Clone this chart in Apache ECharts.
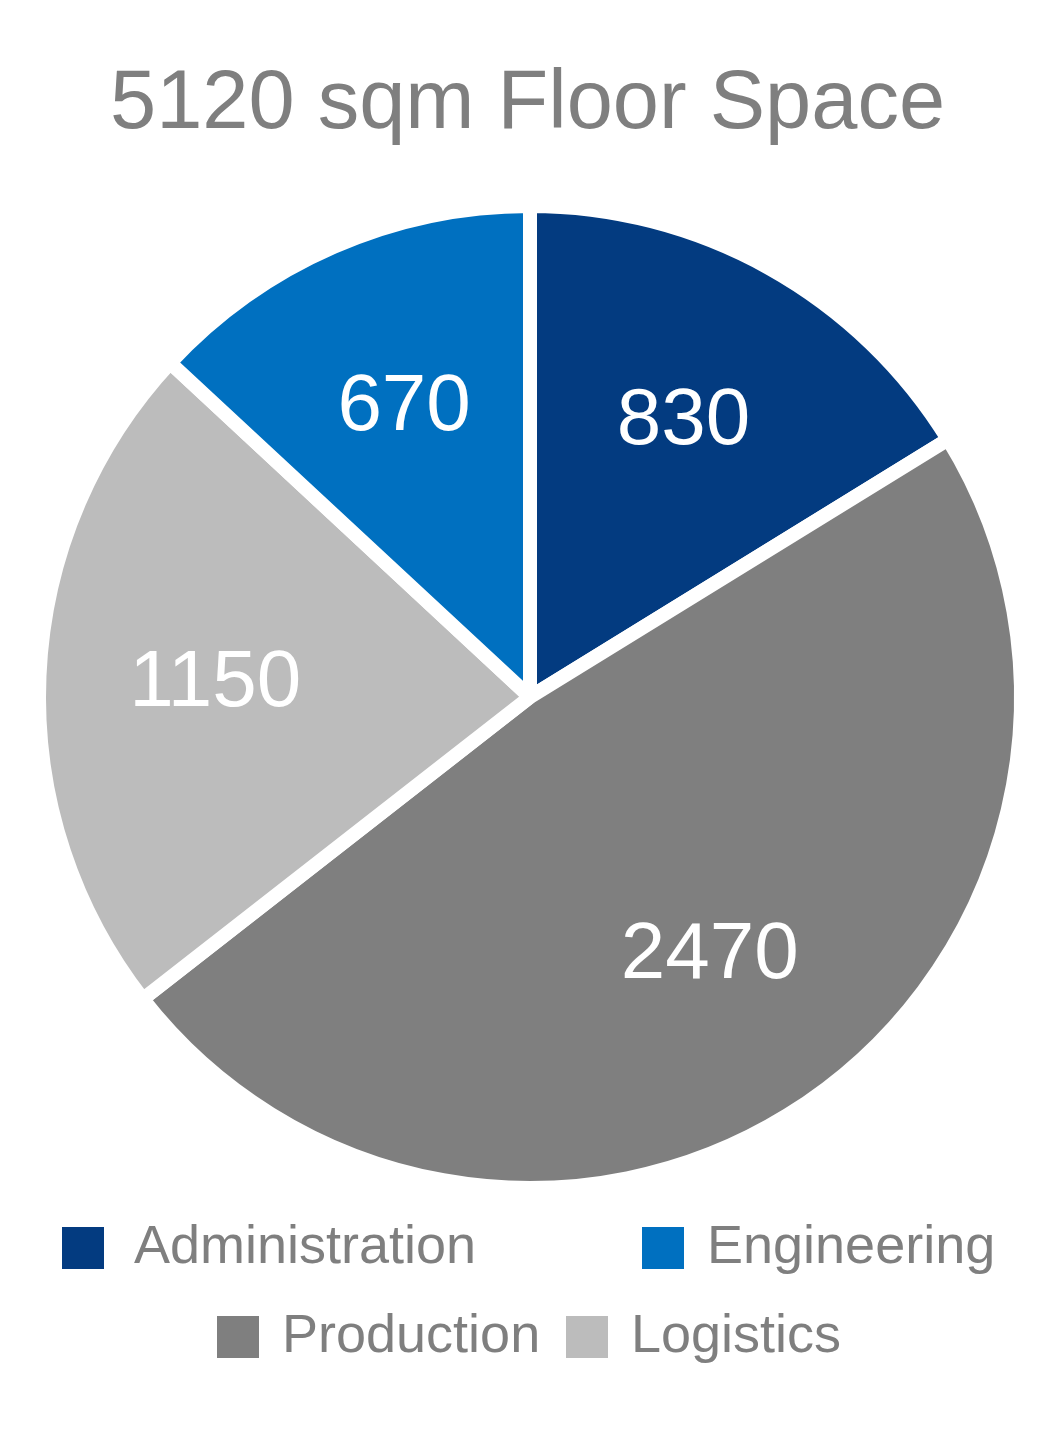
<!DOCTYPE html>
<html>
<head>
<meta charset="utf-8">
<script src="https://cdn.jsdelivr.net/npm/echarts@6/dist/echarts.min.js"></script>
<style>
html,body{margin:0;padding:0;background:#fff;}
#chart{width:1047px;height:1429px;}
</style>
</head>
<body>
<div id="chart"></div>
<script>
const titleText = "5120 sqm Floor Space";
const categories = ["Administration", "Production", "Logistics", "Engineering"];
const values = [830, 2470, 1150, 670];
const colors = ["#033B80", "#7F7F7F", "#BCBCBC", "#0070C0"];
const legendOrder = ["Administration", "Engineering", "Production", "Logistics"];

const chart = echarts.init(document.getElementById('chart'), null, {renderer: 'canvas'});
const FONT = "'Liberation Sans', Arial, sans-serif";
const textGray = "#7F7F7F";

const pieData = categories.map((c, i) => ({ name: c, value: values[i], itemStyle: { color: colors[i] } }));
const labelData = categories.map((c, i) => ({ name: c, value: values[i] }));

function legendAt(name, left, top, padLeft) {
  return {
    show: true,
    data: [name],
    left: left,
    top: top,
    padding: 0,
    orient: 'horizontal',
    icon: 'rect',
    itemWidth: 42,
    itemHeight: 42,
    selectedMode: false,
    itemStyle: { borderWidth: 0 },
    textStyle: { color: textGray, fontSize: 54, fontFamily: FONT, padding: [0, 0, 0, padLeft] }
  };
}

chart.setOption({
  animation: false,
  backgroundColor: '#ffffff',
  title: {
    text: titleText,
    left: 105,
    top: 59,
    textStyle: { color: textGray, fontSize: 83, fontWeight: 'normal', fontFamily: FONT }
  },
  legend: [
    legendAt(legendOrder[0], 62, 1221, 25),
    legendAt(legendOrder[1], 642, 1221, 18),
    legendAt(legendOrder[2], 217, 1310, 18),
    legendAt(legendOrder[3], 566, 1310, 18)
  ],
  series: [
    {
      type: 'pie',
      center: [530, 697],
      radius: [0, 491],
      startAngle: 90,
      clockwise: true,
      silent: true,
      avoidLabelOverlap: false,
      label: { show: false },
      labelLine: { show: false },
      itemStyle: { borderColor: '#ffffff', borderWidth: 14, borderJoin: 'bevel' },
      emphasis: { disabled: true },
      data: pieData
    },
    {
      type: 'pie',
      center: [530, 697],
      radius: [139, 485],
      startAngle: 90,
      clockwise: true,
      silent: true,
      avoidLabelOverlap: false,
      itemStyle: { color: 'rgba(0,0,0,0)', borderWidth: 0 },
      label: {
        show: true,
        position: 'inside',
        formatter: '{c}',
        color: '#ffffff',
        fontSize: 80,
        fontFamily: FONT
      },
      labelLine: { show: false },
      emphasis: { disabled: true },
      data: labelData
    }
  ]
});
</script>
</body>
</html>
